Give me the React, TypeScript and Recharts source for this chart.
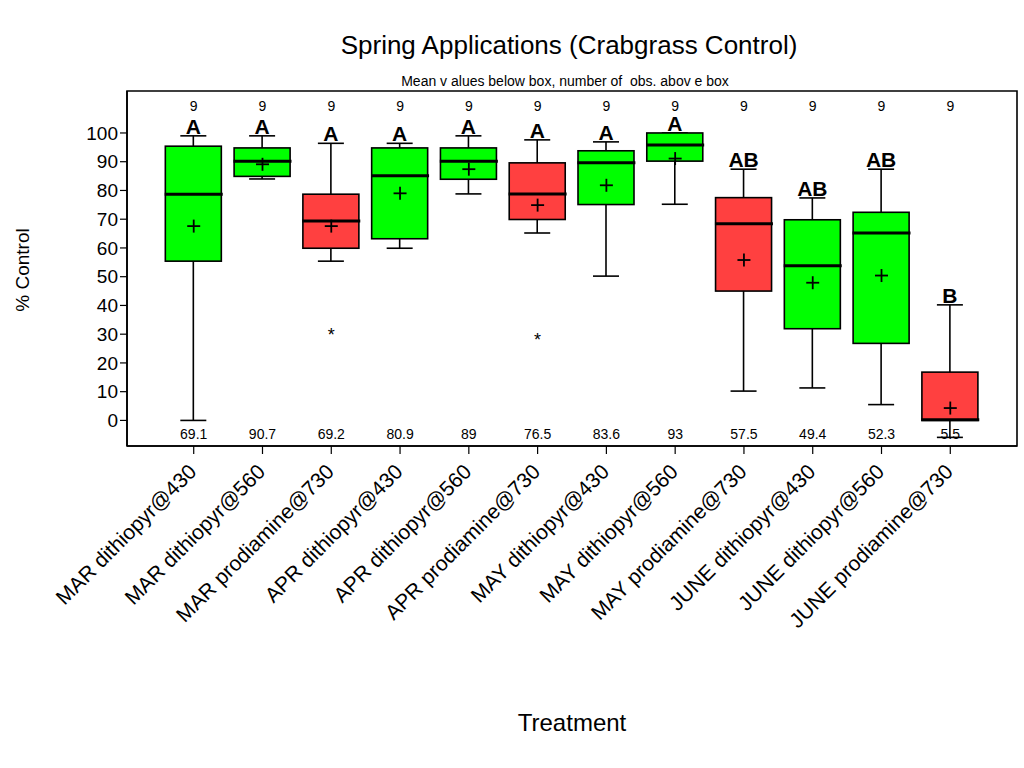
import React from 'react'
import {
  ComposedChart, Bar, Line, XAxis, YAxis, LabelList, ReferenceArea,
} from 'recharts'

const categories = [
  'MAR dithiopyr@430', 'MAR dithiopyr@560', 'MAR prodiamine@730',
  'APR dithiopyr@430', 'APR dithiopyr@560', 'APR prodiamine@730',
  'MAY dithiopyr@430', 'MAY dithiopyr@560', 'MAY prodiamine@730',
  'JUNE dithiopyr@430', 'JUNE dithiopyr@560', 'JUNE prodiamine@730',
]
const whiskerLow = [0, 84, 55.4, 59.9, 78.8, 65.2, 50.2, 75.2, 10.2, 11.3, 5.5, -5.9]
const q1 = [55.4, 84.9, 59.9, 63.2, 83.9, 69.9, 75.1, 90.2, 45.0, 31.9, 26.8, 0]
const medians = [78.7, 90.2, 69.4, 85.1, 90.2, 78.8, 89.6, 95.8, 68.4, 53.8, 65.2, 0.2]
const q3 = [95.4, 94.8, 78.7, 94.8, 94.8, 89.6, 93.8, 100, 77.5, 69.8, 72.4, 16.8]
const whiskerHigh = [99.0, 99.0, 96.4, 96.4, 99.0, 97.6, 96.9, 100, 87.4, 77.4, 87.4, 40.2]
const meanMarks = [67.6, 89.1, 67.6, 79.0, 87.4, 74.9, 81.8, 91.1, 55.8, 47.9, 50.4, 4.3]
const meanLabels = ['69.1', '90.7', '69.2', '80.9', '89', '76.5', '83.6', '93', '57.5', '49.4', '52.3', '5.5']
const outliers: (number | null)[] = [null, null, 31.1, null, null, 29.3, null, null, null, null, null, null]
const obsCounts = [9, 9, 9, 9, 9, 9, 9, 9, 9, 9, 9, 9]
const letters = ['A', 'A', 'A', 'A', 'A', 'A', 'A', 'A', 'AB', 'AB', 'AB', 'B']
const isProdiamine = categories.map((c) => c.includes('prodiamine'))
const yTicks = [0, 10, 20, 30, 40, 50, 60, 70, 80, 90, 100]
const xTicks = categories.map((_, i) => i)

// axis ranges and the rows where the text annotations sit
const X_MIN = -0.97
const X_MAX = 11.97
const Y_MIN = -8.9
const Y_MAX = 114.6
const COUNT_ROW = 109.4
const MEAN_ROW = -4.7

const BOX_W = 56
const CAP_W = 26
const GREEN = '#00ff00'
const RED = '#ff4040'
const FONT = '"Liberation Sans", Arial, Helvetica, sans-serif'

const data = categories.map((name, i) => ({
  idx: i,
  name,
  whisker: [whiskerLow[i], whiskerHigh[i]],
  box: [q1[i], q3[i]],
  median: medians[i],
  mean: meanMarks[i],
  outlier: outliers[i],
  n: obsCounts[i],
  meanLabel: meanLabels[i],
  letter: letters[i],
  fill: isProdiamine[i] ? RED : GREEN,
}))

const WhiskerShape = (props: any) => {
  const { x, y, width, height } = props
  const cx = x + width / 2
  return (
    <g stroke="#000" strokeWidth={1.6}>
      <line x1={cx} x2={cx} y1={y} y2={y + height} />
      <line x1={cx - CAP_W / 2} x2={cx + CAP_W / 2} y1={y} y2={y} />
      <line x1={cx - CAP_W / 2} x2={cx + CAP_W / 2} y1={y + height} y2={y + height} />
    </g>
  )
}

const BoxShape = (props: any) => {
  const { x, y, width, height, payload } = props
  return <rect x={x} y={y} width={width} height={height} fill={payload.fill} stroke="#000" strokeWidth={1.6} />
}

const MedianDot = (props: any) => {
  const { cx, cy, index } = props
  if (cx == null || cy == null) return <g key={index} />
  return <line key={index} x1={cx - 29} x2={cx + 29} y1={cy} y2={cy} stroke="#000" strokeWidth={3} />
}

const MeanDot = (props: any) => {
  const { cx, cy, index } = props
  if (cx == null || cy == null) return <g key={index} />
  return (
    <g key={index} stroke="#000" strokeWidth={1.8}>
      <line x1={cx - 6.5} x2={cx + 6.5} y1={cy} y2={cy} />
      <line x1={cx} x2={cx} y1={cy - 6.5} y2={cy + 6.5} />
    </g>
  )
}

const OutlierDot = (props: any) => {
  const { cx, cy, index, value } = props
  if (cx == null || cy == null || value == null) return <g key={index} />
  return (
    <text key={index} x={cx} y={cy} dy="0.55em" textAnchor="middle" fontSize={18} fontFamily={FONT} fill="#000">*</text>
  )
}

const textDot = (field: string) => (props: any) => {
  const { cx, cy, index, payload } = props
  if (cx == null || cy == null) return <g key={index} />
  return (
    <text key={index} x={cx} y={cy} dy="0.35em" textAnchor="middle" fontSize={14} fontFamily={FONT} fill="#000">
      {payload[field]}
    </text>
  )
}

const XTick = (props: any) => {
  const { x, y, payload } = props
  return (
    <g transform={`translate(${x + 4},${y + 17})`}>
      <text textAnchor="end" transform="rotate(-45)" fontSize={21} fontFamily={FONT} fill="#000">
        {categories[payload.value]}
      </text>
    </g>
  )
}

export default function App() {
  return (
    <div style={{ position: 'absolute', left: 0, top: 0, width: 1024, height: 768, background: '#fff', fontFamily: FONT }}>
      <div style={{ position: 'absolute', left: 569, top: 45, transform: 'translate(-50%, -50%)', fontSize: 26, whiteSpace: 'nowrap' }}>
        Spring Applications (Crabgrass Control)
      </div>
      <div style={{ position: 'absolute', left: 565, top: 81, transform: 'translate(-50%, -50%)', fontSize: 14, whiteSpace: 'pre' }}>
        {'Mean v alues below box, number of  obs. abov e box'}
      </div>
      <div style={{ position: 'absolute', left: 23, top: 270, transform: 'translate(-50%, -50%) rotate(-90deg)', fontSize: 19, whiteSpace: 'nowrap' }}>
        % Control
      </div>
      <div style={{ position: 'absolute', left: 572, top: 723, transform: 'translate(-50%, -50%)', fontSize: 24, whiteSpace: 'nowrap' }}>
        Treatment
      </div>
      <ComposedChart
        width={1024}
        height={768}
        data={data}
        barGap={-BOX_W}
        margin={{ top: 91, right: 7, left: 67, bottom: 122 }}
      >
        <XAxis
          type="number"
          dataKey="idx"
          domain={[X_MIN, X_MAX]}
          ticks={xTicks}
          interval={0}
          allowDataOverflow
          tickSize={8}
          height={200}
          axisLine={{ stroke: '#000', strokeWidth: 1.6 }}
          tickLine={{ stroke: '#000', strokeWidth: 1.2 }}
          tick={<XTick />}
        />
        <YAxis
          type="number"
          domain={[Y_MIN, Y_MAX]}
          ticks={yTicks}
          allowDataOverflow
          interval={0}
          width={60}
          tickSize={7}
          axisLine={{ stroke: '#000', strokeWidth: 1.6 }}
          tickLine={{ stroke: '#000', strokeWidth: 1.2 }}
          tick={{ fontSize: 19, fill: '#000', fontFamily: FONT }}
        />
        <ReferenceArea
          x1={X_MIN}
          x2={X_MAX}
          y1={Y_MIN}
          y2={Y_MAX}
          fill="none"
          stroke="#000"
          strokeWidth={1.6}
          fillOpacity={0}
          strokeOpacity={1}
          ifOverflow="visible"
        />
        <Bar dataKey="whisker" barSize={BOX_W} shape={<WhiskerShape />} isAnimationActive={false}>
          <LabelList
            dataKey="letter"
            position="top"
            offset={2}
            fontSize={21}
            fontWeight="bold"
            fontFamily={FONT}
            fill="#000"
          />
        </Bar>
        <Bar dataKey="box" barSize={BOX_W} shape={<BoxShape />} isAnimationActive={false} />
        <Line dataKey="median" stroke="none" dot={MedianDot} activeDot={false} isAnimationActive={false} />
        <Line dataKey="mean" stroke="none" dot={MeanDot} activeDot={false} isAnimationActive={false} />
        <Line dataKey="outlier" stroke="none" dot={OutlierDot} activeDot={false} isAnimationActive={false} />
        <Line dataKey={() => COUNT_ROW} stroke="none" dot={textDot('n')} activeDot={false} isAnimationActive={false} />
        <Line dataKey={() => MEAN_ROW} stroke="none" dot={textDot('meanLabel')} activeDot={false} isAnimationActive={false} />
      </ComposedChart>
    </div>
  )
}
